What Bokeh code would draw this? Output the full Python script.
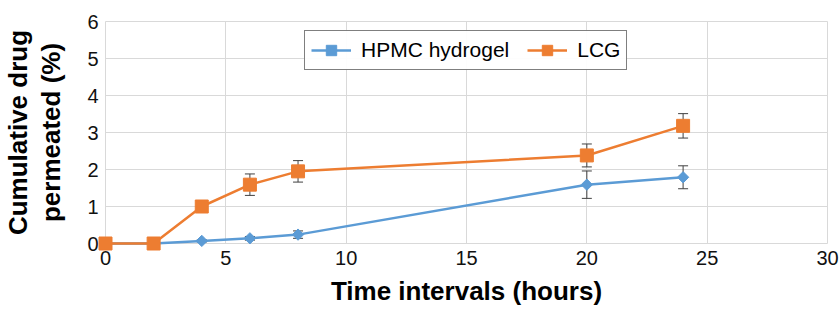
import numpy as np
from bokeh.plotting import figure
from bokeh.models import ColumnDataSource, Whisker, TeeHead, Legend, LegendItem, FixedTicker
from bokeh.embed import file_html
from bokeh.resources import INLINE

time_h = [0, 2, 4, 6, 8, 20, 24]
hpmc = [0, 0, 0.07, 0.14, 0.24, 1.59, 1.79]
hpmc_err = [0, 0, 0.03, 0.05, 0.1, 0.37, 0.31]
lcg = [0, 0, 1.0, 1.59, 1.95, 2.38, 3.18]
lcg_err = [0, 0, 0.03, 0.29, 0.29, 0.31, 0.33]
x_ticks = [0, 5, 10, 15, 20, 25, 30]
y_ticks = [0, 1, 2, 3, 4, 5, 6]

BLUE = "#5B9BD5"
ORANGE = "#ED7D31"
FONT = "Liberation Sans"

p = figure(width=839, height=311, x_range=(0, 30), y_range=(0, 6),
           output_backend="svg", toolbar_location=None,
           min_border_left=104, min_border_right=12, min_border_top=21, min_border_bottom=68)

src_h = ColumnDataSource(dict(x=time_h, y=hpmc,
                              lo=[a - b for a, b in zip(hpmc, hpmc_err)],
                              hi=[a + b for a, b in zip(hpmc, hpmc_err)]))
src_l = ColumnDataSource(dict(x=time_h, y=lcg,
                              lo=[a - b for a, b in zip(lcg, lcg_err)],
                              hi=[a + b for a, b in zip(lcg, lcg_err)]))

lh = p.line("x", "y", source=src_h, line_color=BLUE, line_width=2.5, level="overlay")
ll = p.line("x", "y", source=src_l, line_color=ORANGE, line_width=2.5, level="overlay")

for s in (src_h, src_l):
    w = Whisker(source=s, base="x", upper="hi", lower="lo", line_color="#404040", line_width=1,
                upper_head=TeeHead(size=10, line_color="#404040", line_width=1),
                lower_head=TeeHead(size=10, line_color="#404040", line_width=1))
    p.add_layout(w)

mh = p.scatter("x", "y", source=src_h, marker="square", angle=np.pi / 4, size=8,
               fill_color=BLUE, line_color=BLUE, level="overlay")
ml = p.scatter("x", "y", source=src_l, marker="square", size=13,
               fill_color=ORANGE, line_color=ORANGE, level="overlay")

p.xaxis.ticker = FixedTicker(ticks=x_ticks)
p.yaxis.ticker = FixedTicker(ticks=y_ticks)
for ax in (p.xaxis[0], p.yaxis[0]):
    ax.axis_line_color = None
    ax.major_tick_line_color = None
    ax.minor_tick_line_color = None
    ax.major_tick_out = 0
    ax.major_tick_in = 0
    ax.major_label_text_font = FONT
    ax.major_label_text_font_size = "20px"
    ax.major_label_text_color = "#111111"
    ax.axis_label_text_font = FONT
    ax.axis_label_text_font_style = "bold"
    ax.axis_label_text_font_size = "26px"
    ax.axis_label_text_color = "#000000"
    ax.axis_label_text_line_height = 1.1

p.xaxis.axis_label = "Time intervals (hours)"
p.xaxis.major_label_standoff = 7
p.xaxis.axis_label_standoff = 8
p.yaxis.axis_label = "Cumulative drug\npermeated (%)"
p.yaxis.major_label_standoff = 7
p.yaxis.axis_label_standoff = 18

p.xgrid.grid_line_color = "#D9D9D9"
p.ygrid.grid_line_color = "#D9D9D9"
p.outline_line_color = "#D9D9D9"

legend = Legend(items=[LegendItem(label="HPMC hydrogel", renderers=[lh, mh]),
                       LegendItem(label="LCG", renderers=[ll, ml])],
                orientation="horizontal", location=(199, 173))
legend.label_text_font = FONT
legend.label_text_font_size = "21px"
legend.label_text_color = "#000000"
legend.border_line_color = "#000000"
legend.border_line_width = 1
legend.glyph_width = 40
legend.glyph_height = 26
legend.label_height = 16
legend.padding = 6
legend.spacing = 18
legend.label_standoff = 10
legend.margin = 0
p.add_layout(legend)

open("out.html", "w").write(file_html(p, INLINE))
